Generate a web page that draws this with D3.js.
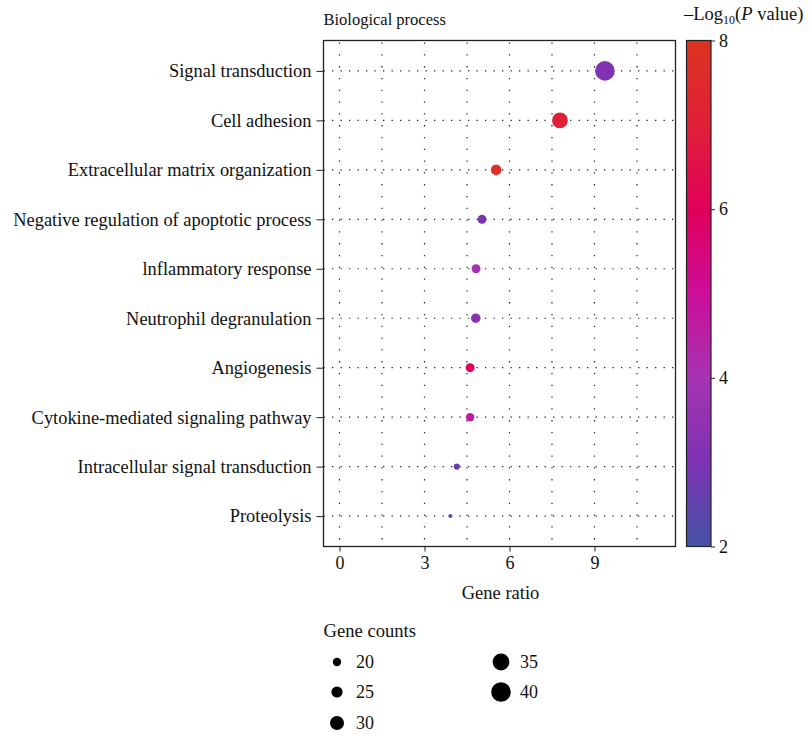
<!DOCTYPE html>
<html>
<head>
<meta charset="utf-8">
<script src="https://cdn.jsdelivr.net/npm/d3@7"></script>
<style>
  body { margin: 0; background: #fff; }
  svg, svg text { font-family: "Liberation Serif", "DejaVu Serif", serif; }
</style>
</head>
<body>
<svg id="chart" width="809" height="735"></svg>
<script>
// GO terms, top to bottom
const terms = [
    'Signal transduction',
    'Cell adhesion',
    'Extracellular matrix organization',
    'Negative regulation of apoptotic process',
    'lnflammatory response',
    'Neutrophil degranulation',
    'Angiogenesis',
    'Cytokine-mediated signaling pathway',
    'Intracellular signal transduction',
    'Proteolysis'
];
const geneRatio = [9.37, 7.78, 5.53, 5.03, 4.82, 4.81, 4.61, 4.61, 4.14, 3.91];
const logP = [3.1, 7.0, 7.9, 3.0, 3.9, 3.3, 6.0, 4.7, 2.6, 2.2];
const geneCount = [40, 33, 24, 21, 21, 22, 21, 20, 16, 12];

const xTicks = [0, 3, 6, 9];
const colorTicks = [2, 4, 6, 8];
const legendCounts = [20, 25, 30, 35, 40];

const FONT = '"Liberation Serif", "DejaVu Serif", serif';
const svg = d3.select('#chart').attr('font-family', FONT);
const margin = { top: 40.5, left: 323.5, right: 675.5, bottom: 546.5 };

const x = d3.scaleLinear().domain([-0.565, 11.86]).range([margin.left, margin.right]);
const y = d3.scalePoint().domain(terms).range([margin.top, margin.bottom]).padding(0.615);
const r = d3.scaleLinear().domain([20, 40]).range([4.2, 9.8]);
const color = d3.scaleLinear()
    .domain([2, 3, 4, 5, 6, 7, 8])
    .range(['#4453a6', '#7d32b2', '#a633b2', '#cc0e98', '#e0005a', '#e02038', '#dc3320'])
    .clamp(true);

const data = terms.map((t, i) => ({
    term: t, ratio: geneRatio[i], p: logP[i], count: geneCount[i]
}));

// strip d3's default axis font so the serif face is used
function styleAxis(g, size) {
    g.attr('font-family', FONT).attr('font-size', null);
    g.select('.domain').remove();
    g.selectAll('text').attr('font-size', size).attr('fill', '#111');
    g.selectAll('line').attr('stroke', '#222');
}

// grid
const grid = svg.append('g').attr('stroke', '#222').attr('stroke-width', 1.2);
grid.selectAll('.vgrid')
    .data(d3.range(0, 11, 1.5))
    .join('line')
    .attr('x1', d => x(d)).attr('x2', d => x(d))
    .attr('y1', margin.top + 2).attr('y2', margin.bottom)
    .attr('stroke-dasharray', '1.3,10.5');
grid.selectAll('.hgrid')
    .data(terms)
    .join('line')
    .attr('x1', margin.left).attr('x2', margin.right)
    .attr('y1', d => y(d)).attr('y2', d => y(d))
    .attr('stroke-dasharray', '1.3,7.2');

// frame
svg.append('rect')
    .attr('x', margin.left).attr('y', margin.top)
    .attr('width', margin.right - margin.left)
    .attr('height', margin.bottom - margin.top)
    .attr('fill', 'none').attr('stroke', '#222').attr('stroke-width', 1.3);

// x axis
svg.append('g')
    .attr('transform', `translate(0, ${margin.bottom})`)
    .call(d3.axisBottom(x).tickValues(xTicks).tickSize(5).tickPadding(5).tickFormat(d3.format('d')))
    .call(g => styleAxis(g, 18));

// y axis
svg.append('g')
    .attr('transform', `translate(${margin.left}, 0)`)
    .call(d3.axisLeft(y).tickSize(7).tickPadding(5))
    .call(g => styleAxis(g, 18.4));

// dots
svg.append('g')
    .selectAll('circle')
    .data(data)
    .join('circle')
    .attr('cx', d => x(d.ratio))
    .attr('cy', d => y(d.term))
    .attr('r', d => r(d.count))
    .attr('fill', d => color(d.p));

// titles
svg.append('text')
    .attr('x', margin.left).attr('y', 25)
    .attr('font-size', 16.5).attr('fill', '#111')
    .text('Biological process');
svg.append('text')
    .attr('x', (margin.left + margin.right) / 2 + 1).attr('y', 599)
    .attr('text-anchor', 'middle').attr('font-size', 18.5).attr('fill', '#111')
    .text('Gene ratio');

// colour bar
const cb = { x: 686.5, w: 24.5, top: margin.top, bottom: margin.bottom };
const cScale = d3.scaleLinear().domain([2, 8]).range([cb.bottom, cb.top]);
const defs = svg.append('defs');
const grad = defs.append('linearGradient')
    .attr('id', 'cbar').attr('x1', 0).attr('y1', 1).attr('x2', 0).attr('y2', 0);
grad.selectAll('stop')
    .data(color.domain())
    .join('stop')
    .attr('offset', d => (d - 2) / 6)
    .attr('stop-color', d => color(d));
svg.append('rect')
    .attr('x', cb.x).attr('y', cb.top)
    .attr('width', cb.w).attr('height', cb.bottom - cb.top)
    .attr('fill', 'url(#cbar)').attr('stroke', '#222').attr('stroke-width', 1.2);
svg.append('g')
    .attr('transform', `translate(${cb.x + cb.w}, 0)`)
    .call(d3.axisRight(cScale).tickValues(colorTicks).tickSize(4).tickPadding(4).tickFormat(d3.format('d')))
    .call(g => styleAxis(g, 18));

const cTitle = svg.append('text')
    .attr('x', 684).attr('y', 20)
    .attr('font-size', 18.5).attr('fill', '#111');
cTitle.append('tspan').text('\u2013Log');
cTitle.append('tspan').attr('font-size', 12).attr('dy', 4).text('10');
cTitle.append('tspan').attr('dy', -4).text('(');
cTitle.append('tspan').attr('font-style', 'italic').text('P');
cTitle.append('tspan').text(' value)');

// size legend
svg.append('text')
    .attr('x', margin.left).attr('y', 637)
    .attr('font-size', 18.6).attr('fill', '#111')
    .text('Gene counts');
const legendPos = [
    { cx: 337, ly: 662 }, { cx: 337, ly: 692 }, { cx: 337, ly: 723 },
    { cx: 501, ly: 662 }, { cx: 501, ly: 692 }
];
const leg = svg.append('g')
    .selectAll('g')
    .data(legendCounts)
    .join('g')
    .attr('transform', (d, i) => `translate(${legendPos[i].cx}, ${legendPos[i].ly})`);
leg.append('circle').attr('r', d => r(d)).attr('fill', '#000');
leg.append('text')
    .attr('x', 19).attr('dy', '0.33em')
    .attr('font-size', 18).attr('fill', '#111')
    .text(d => d);

svg.selectAll('text').attr('font-family', FONT);
</script>
</body>
</html>
